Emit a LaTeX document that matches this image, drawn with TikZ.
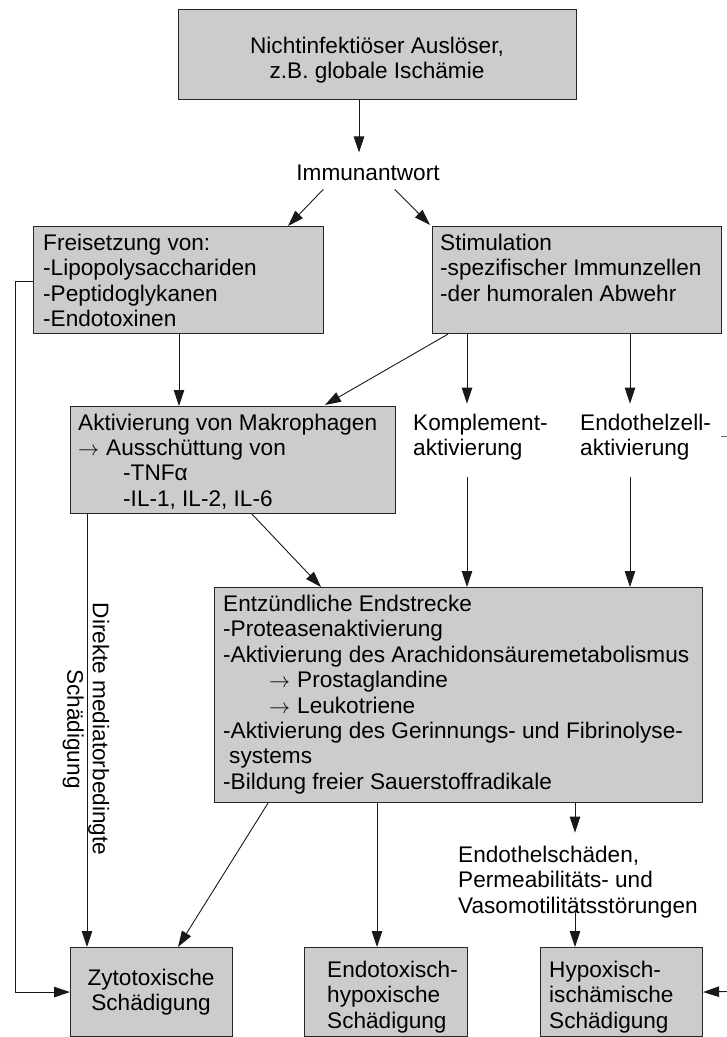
\documentclass[tikz,border=0pt]{standalone}
\usepackage{fontspec}
\setmainfont{Liberation Sans}
\usetikzlibrary{arrows.meta}
\newcommand\ml[1]{\vtop{\baselineskip=25.4pt\lineskiplimit=-30pt\lineskip=0pt\halign{##\hfil\cr#1\crcr}}}
\newcommand\mlc[1]{\vtop{\baselineskip=25.4pt\lineskiplimit=-30pt\lineskip=0pt\halign{\hfil##\hfil\cr#1\crcr}}}
\newcommand\tarr{\resizebox{21pt}{\height}{$\rightarrow$}\kern7pt}
\definecolor{boxgray}{HTML}{CCCCCC}
\begin{document}
\begin{tikzpicture}[x=1pt,y=-1pt,
  box/.style={draw=black!85,line width=1.1pt,fill=boxgray,anchor=north west,inner sep=0pt},
  txt/.style={inner sep=0pt,font=\fontsize{22.6}{25.4}\selectfont},
  conn/.style={draw=black!90,line width=0.9pt},
  arr/.style={conn,-{Triangle[length=16pt,width=10.5pt]}}]
\useasboundingbox (0,0) rectangle (727,1037);
\fill[white] (0,0) rectangle (727,1037);

% boxes
\node[box,minimum width=398pt,minimum height=90pt] (trig) at (178,9) {};
\node[box,minimum width=290pt,minimum height=107pt] (frei) at (33,226) {};
\node[box,minimum width=289pt,minimum height=107pt] (stim) at (432,226) {};
\node[box,minimum width=325pt,minimum height=107pt] (makro) at (70,406) {};
\node[box,minimum width=488pt,minimum height=215pt] (entz) at (214,587) {};
\node[box,minimum width=162pt,minimum height=89pt] (zyto) at (70,947) {};
\node[box,minimum width=163pt,minimum height=89pt] (endo) at (304,947) {};
\node[box,minimum width=162pt,minimum height=89pt] (hypo) at (540,947) {};

% texts
\node[txt,anchor=base] (trigT) at (377,53.5) {\mlc{Nichtinfektiöser Auslöser,\cr z.B. globale Ischämie}};
\node[txt,anchor=base] (imm) at (368,180.5) {Immunantwort};
\node[txt,anchor=base west] (freiT) at (43,250.5) {\ml{Freisetzung von:\cr -Lipopolysacchariden\cr -Peptidoglykanen\cr -Endotoxinen}};
\node[txt,anchor=base west] (stimT) at (440,250.5) {\ml{Stimulation\cr -spezifischer Immunzellen\cr -der humoralen Abwehr}};
\node[txt,anchor=base west] (makroT) at (78,430) {\ml{Aktivierung von Makrophagen\cr \tarr Ausschüttung von\cr \kern45pt -TNFα\cr \kern45pt -IL-1, IL-2, IL-6}};
\node[txt,anchor=base west] (kompl) at (413,430) {\ml{Komplement-\cr aktivierung}};
\node[txt,anchor=base west] (endz) at (580,430) {\ml{Endothelzell-\cr aktivierung}};
\node[txt,anchor=base west] (entzT) at (223,611.5) {\ml{Entzündliche Endstrecke\cr -Proteasenaktivierung\cr -Aktivierung des Arachidonsäuremetabolismus\cr \kern46pt\tarr Prostaglandine\cr \kern46pt\tarr Leukotriene\cr -Aktivierung des Gerinnungs- und Fibrinolyse-\cr \kern6pt systems\cr -Bildung freier Sauerstoffradikale}};
\node[txt,rotate=-90,align=center] (lbl) at (86,729) {Direkte mediatorbedingte\\Schädigung};
\node[txt,anchor=base west] (endsch) at (458,862.5) {\ml{Endothelschäden,\cr Permeabilitäts- und\cr Vasomotilitätsstörungen}};
\node[txt,anchor=base] (zytoT) at (151,985.5) {\mlc{Zytotoxische\cr Schädigung}};
\node[txt,anchor=base west] (endoT) at (327,977.5) {\ml{Endotoxisch-\cr hypoxische\cr Schädigung}};
\node[txt,anchor=base west] (hypoT) at (549,977.5) {\ml{Hypoxisch-\cr ischämische\cr Schädigung}};

% free ends
\coordinate (rin) at (727,991.5);
\coordinate (dA) at (721,436);
\coordinate (dB) at (727,436);

% connectors
\draw[arr,shorten >=12.3pt] (trig.south -| 359,0) -- (imm.north -| 359,0);
\draw[arr] ([shift={(27,8.5)}]imm.south west) -- (frei.north -| 288,0);
\draw[arr] ([shift={(-45,8.5)}]imm.south east) -- ([shift={(-2,-1)}]stim.north west);
\draw[arr] (frei.south -| 179,0) -- (makro.north -| 179,0);
\draw[arr] (stim.south -| 448,0) -- ([yshift=1pt]makro.north -| 325,0);
\draw[arr,shorten >=9.8pt] (stim.south -| 467,0) -- (kompl.north -| 467,0);
\draw[arr,shorten >=9.8pt] (stim.south -| 630,0) -- (endz.north -| 630,0);
\draw[arr,shorten <=17pt] (kompl.south -| 467,0) -- (entz.north -| 467,0);
\draw[arr,shorten <=17pt] (endz.south -| 630,0) -- (entz.north -| 630,0);
\draw[arr] (makro.south -| 252,0) -- (entz.north -| 321,0);
\draw[arr] (makro.south -| 87,0) -- (zyto.north -| 87,0);
\draw[arr] (entz.south -| 268,0) -- (zyto.north -| 178,0);
\draw[arr] (entz.south -| 377,0) -- (endo.north -| 377,0);
\draw[arr,shorten >=13.3pt] (entz.south -| 575,0) -- (endsch.north -| 575,0);
\draw[arr,shorten <=-8pt] (endsch.south -| 575,0) -- (hypo.north -| 575,0);
\draw[arr] ([shift={(0,1.5)}]frei.west) -- ++(-18,0) |- (zyto.west);
\draw[arr] (rin) -- (hypo.east);
\draw[draw=black!60,line width=0.9pt] (dA) -- (dB);
\end{tikzpicture}
\end{document}
